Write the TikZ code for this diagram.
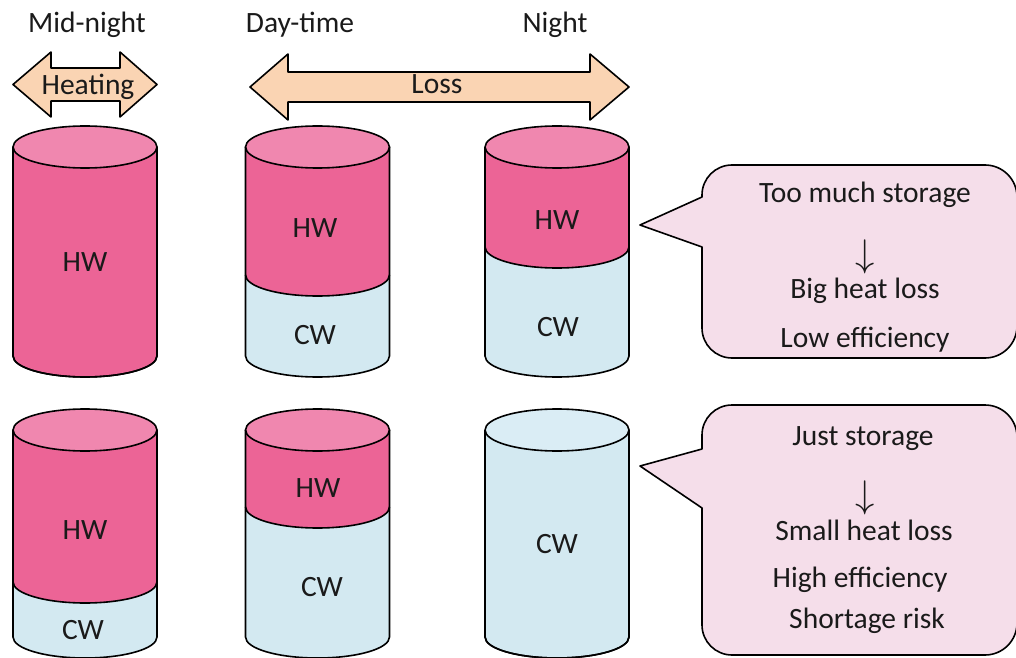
\documentclass[tikz,border=0pt]{standalone}
\usepackage{fontspec}
\setmainfont{Carlito}
\definecolor{hwtop}{HTML}{F087AF}
\definecolor{hw}{HTML}{EC6496}
\definecolor{cw}{HTML}{D3E9F1}
\definecolor{cwtop}{HTML}{DAEDF5}
\definecolor{peach}{HTML}{FAD4B3}
\definecolor{bubble}{HTML}{F5DEEA}
\definecolor{ink}{HTML}{1A1A1A}
\tikzset{
  outl/.style={draw=black, line width=1.6pt, line join=round},
  txt/.style={text=ink, font=\fontsize{29.5}{35}\selectfont, inner sep=0pt},
  bl/.style={txt, anchor=base},
  arr/.style={txt},
}
\newcommand\downarr{\scalebox{1.55}{$\downarrow$}}
% \tank{cx}{topY}{botY}{divY}{top colour}{upper colour}
\newcommand\tank[6]{%
  \fill[cw] (#1-72,#2) -- (#1-72,#3) arc[start angle=180,end angle=360,x radius=72,y radius=21] -- (#1+72,#2) -- cycle;
  \fill[#6] (#1-72,#2) -- (#1-72,#4) arc[start angle=180,end angle=360,x radius=72,y radius=21] -- (#1+72,#2) -- cycle;
  \draw[outl] (#1-72,#4) arc[start angle=180,end angle=360,x radius=72,y radius=21];
  \filldraw[outl, fill=#5] (#1,#2) ellipse[x radius=72,y radius=21];
  \draw[outl] (#1-72,#2) -- (#1-72,#3) arc[start angle=180,end angle=360,x radius=72,y radius=21] -- (#1+72,#2);
}
\begin{document}
\begin{tikzpicture}[x=1pt,y=1pt]
\useasboundingbox (0,0) rectangle (1016,657);
\clip (0,0) rectangle (1016,657);

% top labels
\node[bl] (lmid) at (87,624) {Mid-night};
\node[bl] (lday) at (300,624) {Day-time};
\node[bl] (lnight) at (555,624) {Night};

% double arrows
\filldraw[outl, fill=peach] (13,572.5) -- (51,605) -- (51,589) -- (120,589) -- (120,605) -- (157,572.5)
  -- (120,540) -- (120,556) -- (51,556) -- (51,540) -- cycle;
\node[bl] (heat) at (88,562) {Heating};
\filldraw[outl, fill=peach] (250,570) -- (288,603) -- (288,585) -- (590,585) -- (590,603) -- (629,570)
  -- (590,537) -- (590,555) -- (288,555) -- (288,537) -- cycle;
\node[bl] (loss) at (437,563) {Loss};

% tanks, row 1
\tank{85}{510}{301}{301}{hwtop}{hw}
\tank{317.5}{510}{301}{382}{hwtop}{hw}
\tank{557}{510}{301}{410}{hwtop}{hw}
% tanks, row 2
\tank{85}{227}{20}{75}{hwtop}{hw}
\tank{317.5}{227}{20}{150}{hwtop}{hw}
\tank{557}{227}{20}{20}{cwtop}{cw}

% tank labels
\node[txt] (h11) at (85,395) {HW};
\node[txt] (h12) at (315,429) {HW};
\node[txt] (c12) at (315,322) {CW};
\node[txt] (h13) at (557,437) {HW};
\node[txt] (c13) at (558,330) {CW};
\node[txt] (h21) at (85,127) {HW};
\node[txt] (c21) at (83,27) {CW};
\node[txt] (h22) at (318,169) {HW};
\node[txt] (c22) at (322,70) {CW};
\node[txt] (c23) at (557,113) {CW};

% callouts
\filldraw[outl, fill=bubble] (640,432) -- (702,460) -- (702,462)
  arc[start angle=180,end angle=90,radius=30] -- (985,492)
  arc[start angle=90,end angle=0,radius=32] -- (1017,331)
  arc[start angle=0,end angle=-90,radius=32] -- (732,299)
  arc[start angle=270,end angle=180,radius=30] -- (702,410) -- cycle;
\filldraw[outl, fill=bubble] (640,191) -- (702,208) -- (702,222)
  arc[start angle=180,end angle=90,radius=30] -- (985,252)
  arc[start angle=90,end angle=0,radius=32] -- (1017,34)
  arc[start angle=0,end angle=-90,radius=32] -- (732,2)
  arc[start angle=270,end angle=180,radius=30] -- (702,149) -- cycle;

\node[bl] (t1) at (865,454) {Too much storage};
\node[arr] (a1) at (865,400) {\downarr};
\node[bl] (t2) at (865,359) {Big heat loss};
\node[bl] (t3) at (865,310) {Low efficiency};

\node[bl] (u1) at (863,212) {Just storage};
\node[arr] (a2) at (865,159) {\downarr};
\node[bl] (u2) at (864,117) {Small heat loss};
\node[bl] (u3) at (860,70) {High efficiency};
\node[bl] (u4) at (867,29) {Shortage risk};
\end{tikzpicture}
\end{document}
